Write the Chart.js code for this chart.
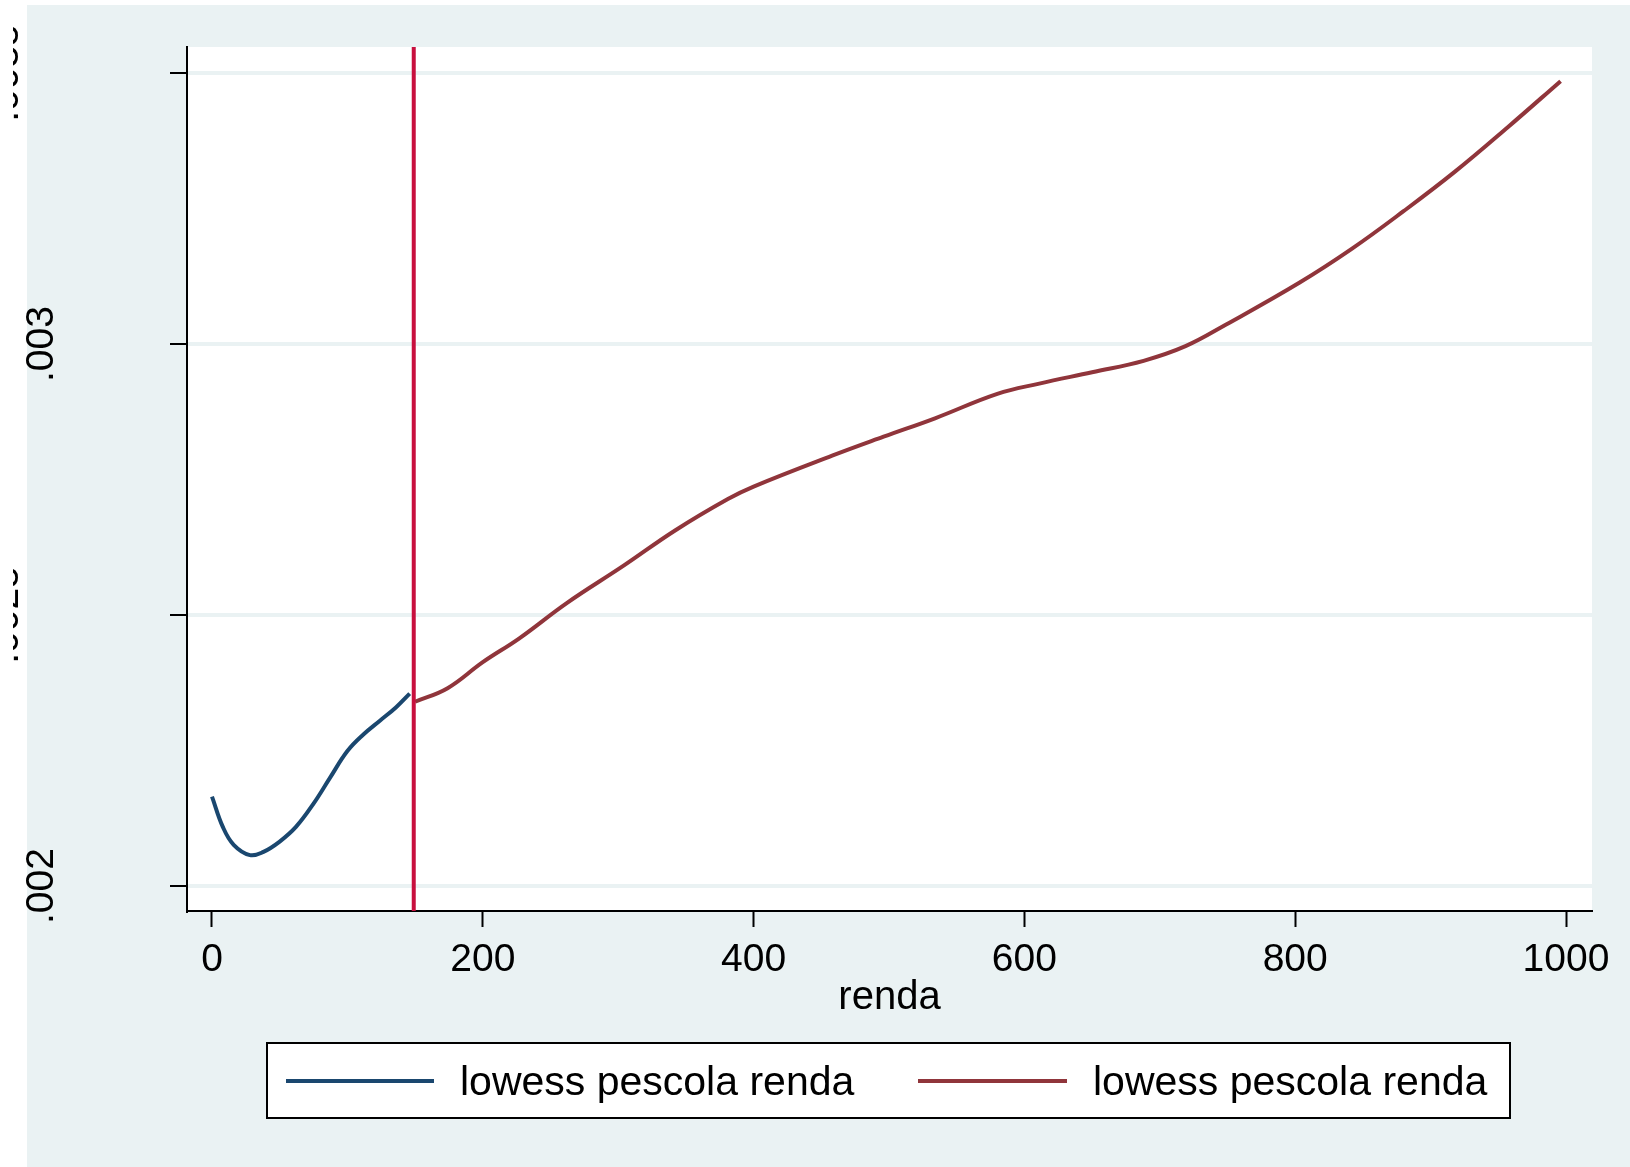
<!DOCTYPE html>
<html>
<head>
<meta charset="utf-8">
<script src="https://cdn.jsdelivr.net/npm/chart.js@4"></script>
<style>
  body { margin: 0; background: #fff; }
  canvas { display: block; }
</style>
</head>
<body>
<canvas id="chart" width="1630" height="1167"></canvas>
<script>
// lowess fit below the cutoff
const leftX = [0, 8, 16, 28, 38, 50, 62, 75, 87, 100, 112, 124, 136, 146];
const leftY = [0.002165, 0.002109, 0.002076, 0.002057, 0.002063, 0.002082, 0.002109,
               0.002152, 0.002199, 0.002249, 0.002280, 0.002305, 0.002330, 0.002355];
// lowess fit above the cutoff
const rightX = [150, 174, 200, 227, 262, 304, 342, 381, 400, 458, 496, 534, 580, 611, 650,
                688, 719, 749, 803, 842, 880, 918, 957, 996];
const rightY = [0.002340, 0.002365, 0.002413, 0.002457, 0.002522, 0.002591, 0.002656, 0.002714,
                0.002737, 0.002794, 0.002829, 0.002863, 0.002908, 0.002927, 0.002948, 0.002969,
                0.002996, 0.003036, 0.003113, 0.003176, 0.003245, 0.003318, 0.003400, 0.003485];
const cutoff = 149;
const xTicks = [0, 200, 400, 600, 800, 1000];
const yTicks = [0.002, 0.0025, 0.003, 0.0035];
const yTickLabels = ['.002', '.0025', '.003', '.0035'];
const seriesLabels = ['lowess pescola renda', 'lowess pescola renda'];

const FONT = "'Liberation Sans', Arial, sans-serif";
Chart.defaults.font.family = FONT;
Chart.defaults.color = '#000';

const bgPlugin = {
  id: 'bg',
  beforeDraw(chart) {
    const c = chart.ctx, a = chart.chartArea;
    c.save();
    c.fillStyle = '#ffffff';
    c.fillRect(0, 0, chart.width, chart.height);
    c.fillStyle = '#EAF2F3';
    c.fillRect(27, 5, chart.width - 27, chart.height - 5);
    c.fillStyle = '#ffffff';
    c.fillRect(a.left, a.top, a.right - a.left, a.bottom - a.top);
    c.restore();
  }
};

const cutoffPlugin = {
  id: 'cutoff',
  afterDatasetsDraw(chart) {
    const c = chart.ctx, a = chart.chartArea;
    const x = chart.scales.x.getPixelForValue(cutoff);
    c.save();
    c.strokeStyle = '#C8103E';
    c.lineWidth = 4;
    c.beginPath();
    c.moveTo(x, a.top);
    c.lineTo(x, a.bottom);
    c.stroke();
    c.restore();
  }
};

const extrasPlugin = {
  id: 'extras',
  afterDraw(chart) {
    const c = chart.ctx;
    const ys = chart.scales.y;
    // rotated y tick labels, the long ones fall off the left edge
    c.save();
    c.font = '39px ' + FONT;
    c.fillStyle = '#000';
    c.textAlign = 'center';
    c.textBaseline = 'alphabetic';
    yTicks.forEach((v, i) => {
      const py = ys.getPixelForValue(v);
      const long = yTickLabels[i].length > 4;
      const bx = long ? 18 : 53;
      c.save();
      if (long) { c.beginPath(); c.rect(13, 0, 14, chart.height); c.clip(); }
      c.translate(bx, py);
      c.rotate(-Math.PI / 2);
      c.fillText(yTickLabels[i], 0, 0);
      c.restore();
    });
    c.restore();

    // legend box
    c.save();
    c.fillStyle = '#fff';
    c.fillRect(267, 1043, 1243, 75);
    c.strokeStyle = '#000';
    c.lineWidth = 2;
    c.strokeRect(267, 1043, 1243, 75);
    const items = [[286, 434, 460], [918, 1067, 1093]];
    c.font = '41px ' + FONT;
    c.textBaseline = 'middle';
    c.textAlign = 'left';
    chart.data.datasets.forEach((ds, i) => {
      const [x1, x2, tx] = items[i];
      c.strokeStyle = ds.borderColor;
      c.lineWidth = 4;
      c.beginPath();
      c.moveTo(x1, 1081);
      c.lineTo(x2, 1081);
      c.stroke();
      c.fillStyle = '#000';
      c.fillText(ds.label, tx, 1084);
    });
    c.restore();
  }
};

new Chart(document.getElementById('chart'), {
  type: 'line',
  data: {
    datasets: [
      {
        label: seriesLabels[0],
        data: leftX.map((x, i) => ({ x, y: leftY[i] })),
        borderColor: '#1A476F',
        borderWidth: 4,
        pointRadius: 0,
        tension: 0.4,
        fill: false
      },
      {
        label: seriesLabels[1],
        data: rightX.map((x, i) => ({ x, y: rightY[i] })),
        borderColor: '#90353B',
        borderWidth: 4,
        pointRadius: 0,
        tension: 0.4,
        fill: false
      }
    ]
  },
  options: {
    responsive: false,
    animation: false,
    layout: { padding: { top: 47, right: 38, left: 0, bottom: 145 } },
    plugins: { legend: { display: false }, tooltip: { enabled: false } },
    scales: {
      x: {
        type: 'linear',
        min: -18.46,
        max: 1019.2,
        afterBuildTicks(s) { s.ticks = xTicks.map(v => ({ value: v })); },
        afterFit(s) { s.height = 111; },
        border: { display: true, color: '#000', width: 2 },
        grid: { drawOnChartArea: false, drawTicks: true, tickLength: 16, tickColor: '#000', tickWidth: 2 },
        ticks: { font: { size: 39 }, color: '#000', padding: 10, maxRotation: 0, callback: v => String(v) },
        title: { display: true, text: 'renda', font: { size: 40 }, color: '#000', padding: 0 }
      },
      y: {
        type: 'linear',
        min: 0.0019539,
        max: 0.003548,
        afterBuildTicks(s) { s.ticks = yTicks.map(v => ({ value: v })); },
        afterFit(s) { s.width = 187; },
        border: { display: true, color: '#000', width: 2 },
        grid: { color: '#EAF2F3', lineWidth: 4, drawTicks: true, tickLength: 17, tickColor: '#000', tickWidth: 2 },
        ticks: { display: false }
      }
    }
  },
  plugins: [bgPlugin, cutoffPlugin, extrasPlugin]
});
</script>
</body>
</html>
